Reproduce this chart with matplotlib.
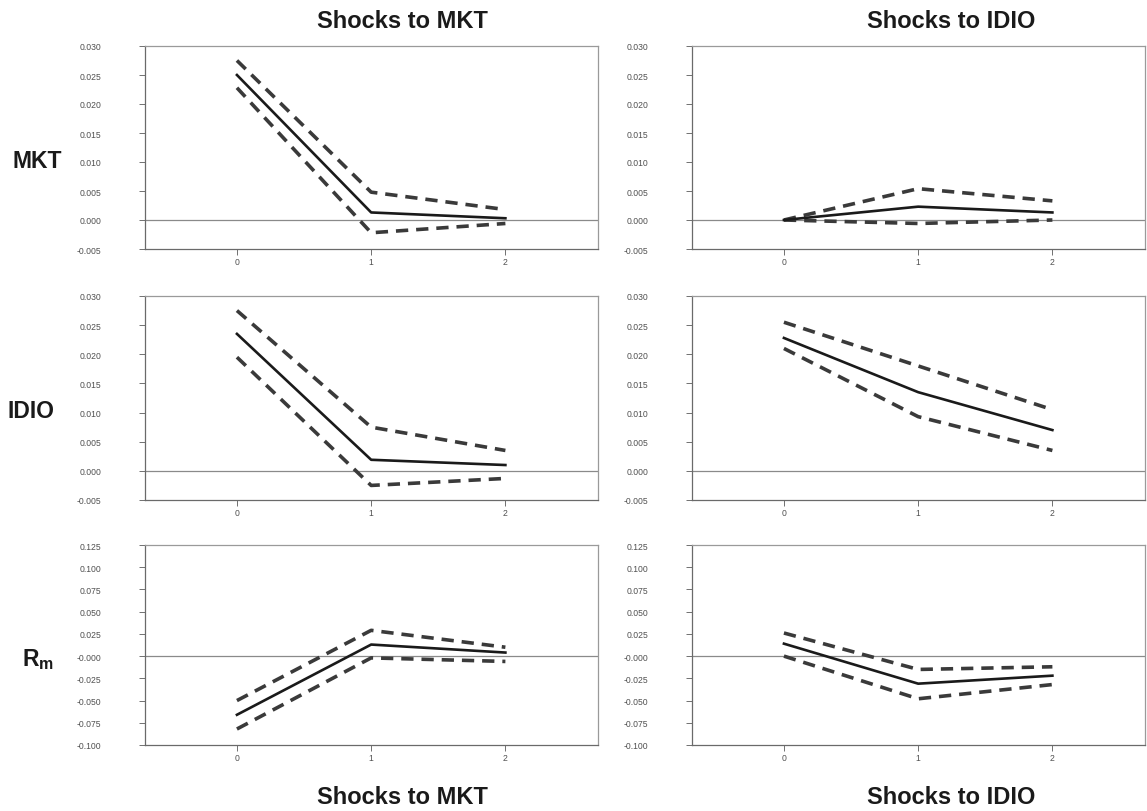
import matplotlib
matplotlib.use("Agg")
import matplotlib.pyplot as plt

plt.rcParams["font.family"] = ["Liberation Sans", "DejaVu Sans"]

steps = [0, 1, 2]
row_names = ["MKT", "IDIO", "R$_\\mathregular{m}$"]
col_titles = ["Shocks to MKT", "Shocks to IDIO"]

# impulse responses: (central, upper band, lower band) per panel
mkt_mkt = [0.0250, 0.0013, 0.0003]
mkt_mkt_hi = [0.0275, 0.0048, 0.0018]
mkt_mkt_lo = [0.0228, -0.0022, -0.0006]

mkt_idio = [0.0000, 0.0023, 0.0013]
mkt_idio_hi = [0.0000, 0.0054, 0.0033]
mkt_idio_lo = [0.0000, -0.0006, 0.0000]

idio_mkt = [0.0235, 0.0019, 0.0010]
idio_mkt_hi = [0.0275, 0.0075, 0.0035]
idio_mkt_lo = [0.0195, -0.0025, -0.0013]

idio_idio = [0.0228, 0.0135, 0.0070]
idio_idio_hi = [0.0255, 0.0180, 0.0105]
idio_idio_lo = [0.0210, 0.0093, 0.0035]

rm_mkt = [-0.066, 0.013, 0.004]
rm_mkt_hi = [-0.050, 0.029, 0.010]
rm_mkt_lo = [-0.082, -0.002, -0.006]

rm_idio = [0.014, -0.031, -0.022]
rm_idio_hi = [0.026, -0.015, -0.012]
rm_idio_lo = [0.000, -0.048, -0.032]

small_ticks = [-0.005, 0.000, 0.005, 0.010, 0.015, 0.020, 0.025, 0.030]
small_labels = ["-0.005", "0.000", "0.005", "0.010", "0.015", "0.020", "0.025", "0.030"]
big_ticks = [-0.100, -0.075, -0.050, -0.025, 0.000, 0.025, 0.050, 0.075, 0.100, 0.125]
big_labels = ["-0.100", "-0.075", "-0.050", "-0.025", "-0.000", "0.025", "0.050",
              "0.075", "0.100", "0.125"]

panels = [
    [(mkt_mkt, mkt_mkt_hi, mkt_mkt_lo), (mkt_idio, mkt_idio_hi, mkt_idio_lo)],
    [(idio_mkt, idio_mkt_hi, idio_mkt_lo), (idio_idio, idio_idio_hi, idio_idio_lo)],
    [(rm_mkt, rm_mkt_hi, rm_mkt_lo), (rm_idio, rm_idio_hi, rm_idio_lo)],
]

W, H = 1147, 812
fig = plt.figure(figsize=(W / 100, H / 100), dpi=100)

col_left = [145, 692]
col_width = 453
row_box = [(47, 250), (297, 501), (546, 746)]

for r in range(3):
    top, bot = row_box[r]
    for c in range(2):
        ax = fig.add_axes([col_left[c] / W, (H - bot) / H, col_width / W, (bot - top) / H])
        mid, hi, lo = panels[r][c]
        ax.axhline(0, color="#8a8a8a", lw=0.9, zorder=1)
        ax.plot(steps, hi, color="#3a3a3a", lw=2.6, ls=(0, (3.4, 2.2)), zorder=2)
        ax.plot(steps, lo, color="#3a3a3a", lw=2.6, ls=(0, (3.4, 2.2)), zorder=2)
        ax.plot(steps, mid, color="#1a1a1a", lw=1.9, zorder=3)
        ax.set_xlim(-0.685, 2.69)
        if r < 2:
            ax.set_ylim(-0.005, 0.030)
            ax.set_yticks(small_ticks)
            ax.set_yticklabels(small_labels)
        else:
            ax.set_ylim(-0.100, 0.125)
            ax.set_yticks(big_ticks)
            ax.set_yticklabels(big_labels)
        ax.set_xticks(steps)
        ax.set_xticklabels([str(s) for s in steps])
        ax.tick_params(axis="y", direction="out", length=4.5, width=0.7, color="#707070",
                       labelsize=6.2, labelcolor="#505050", pad=27)
        ax.tick_params(axis="x", direction="out", length=4, width=0.7, color="#707070",
                       labelsize=6.2, labelcolor="#505050", pad=2)
        for side in ["left", "bottom"]:
            ax.spines[side].set_color("#6a6a6a")
            ax.spines[side].set_linewidth(0.9)
        for side in ["top", "right"]:
            ax.spines[side].set_color("#9a9a9a")
            ax.spines[side].set_linewidth(0.9)

# column titles top and bottom
title_x = [402, 951]
for c, title in enumerate(col_titles):
    xc = title_x[c] / W
    fig.text(xc, 1 - 22 / H, title, ha="center", va="center", fontsize=17,
             fontweight="bold", color="#1a1a1a")
    fig.text(xc, 1 - 798 / H, title, ha="center", va="center", fontsize=17,
             fontweight="bold", color="#1a1a1a")

# row labels
row_label_y = [162, 412, 660]
row_label_x = [37, 31, 38]
for r, name in enumerate(row_names):
    fig.text(row_label_x[r] / W, 1 - row_label_y[r] / H, name, ha="center", va="center",
             fontsize=16.5, fontweight="bold", color="#1a1a1a")

fig.savefig("out.png", dpi=100)
